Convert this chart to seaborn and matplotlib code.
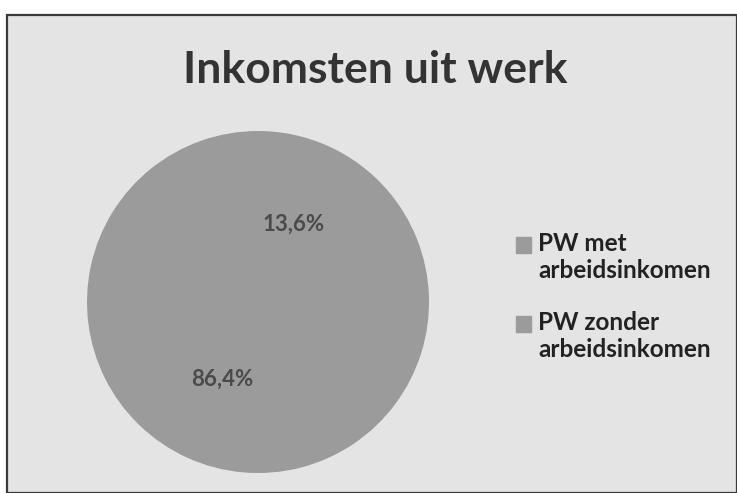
import matplotlib
matplotlib.use("Agg")
import matplotlib.pyplot as plt
import matplotlib.patches as mpatches
from matplotlib.legend_handler import HandlerPatch
import numpy as np
import seaborn as sns

# data
labels = ["PW met\narbeidsinkomen", "PW zonder\narbeidsinkomen"]
values = [13.6, 86.4]
pct_labels = ["13,6%", "86,4%"]
title = "Inkomsten uit werk"

sns.set_theme(style="white")
plt.rcParams['font.family'] = ['Lato', 'DejaVu Sans']

# the scan shows both slices in (almost) the same gray
grays = ["#9b9b9b", "#9b9b9b"]

fig = plt.figure(figsize=(7.37, 4.93), dpi=100)
fig.patch.set_facecolor("white")

# scanned slide background + frame
frame = mpatches.Rectangle((7 / 737, 0), 1 - 7 / 737, 1 - 15 / 493,
                           transform=fig.transFigure, facecolor="#e4e4e4",
                           edgecolor="#3a3a3a", linewidth=1.6, zorder=-5)
fig.patches.append(frame)

ax = fig.add_axes([0.1167, 0.0385, 0.4668, 0.6978])
ax.set_zorder(2)
ax.patch.set_visible(False)
wedges, _ = ax.pie(values, colors=grays, startangle=90, counterclock=False,
                   radius=1, wedgeprops=dict(linewidth=1, edgecolor="#9b9b9b"))
ax.set_xlim(-1.01, 1.01)
ax.set_ylim(-1.01, 1.01)
ax.axis("off")

# percentage labels placed along each wedge's mid angle
for w, txt in zip(wedges, pct_labels):
    ang = np.deg2rad((w.theta1 + w.theta2) / 2)
    ax.text(0.5 * np.cos(ang), 0.5 * np.sin(ang), txt, ha="center", va="center",
            fontsize=16, fontweight="bold", color="#4a4a4a")

fig.text(0.509, 0.858, title, ha="center", va="center", fontsize=32,
         fontweight="bold", color="#333333")


# legend squares sit next to the first line of each label (like PowerPoint)
def square_on_first_line(legend, orig_handle, xdescent, ydescent, width, height, fontsize):
    return mpatches.Rectangle((-xdescent, -ydescent + 0.55 * fontsize), width, height)


fig.legend(wedges, labels, loc="upper left", bbox_to_anchor=(0.6705, 0.573),
           frameon=False, handlelength=0.6, handleheight=0.6,
           handletextpad=0.3, labelspacing=1.2, labelcolor="#222222",
           handler_map={mpatches.Wedge: HandlerPatch(patch_func=square_on_first_line)},
           prop=dict(family=['Lato', 'DejaVu Sans'], weight="bold", size=17.5))

fig.savefig("out.png", dpi=100)
